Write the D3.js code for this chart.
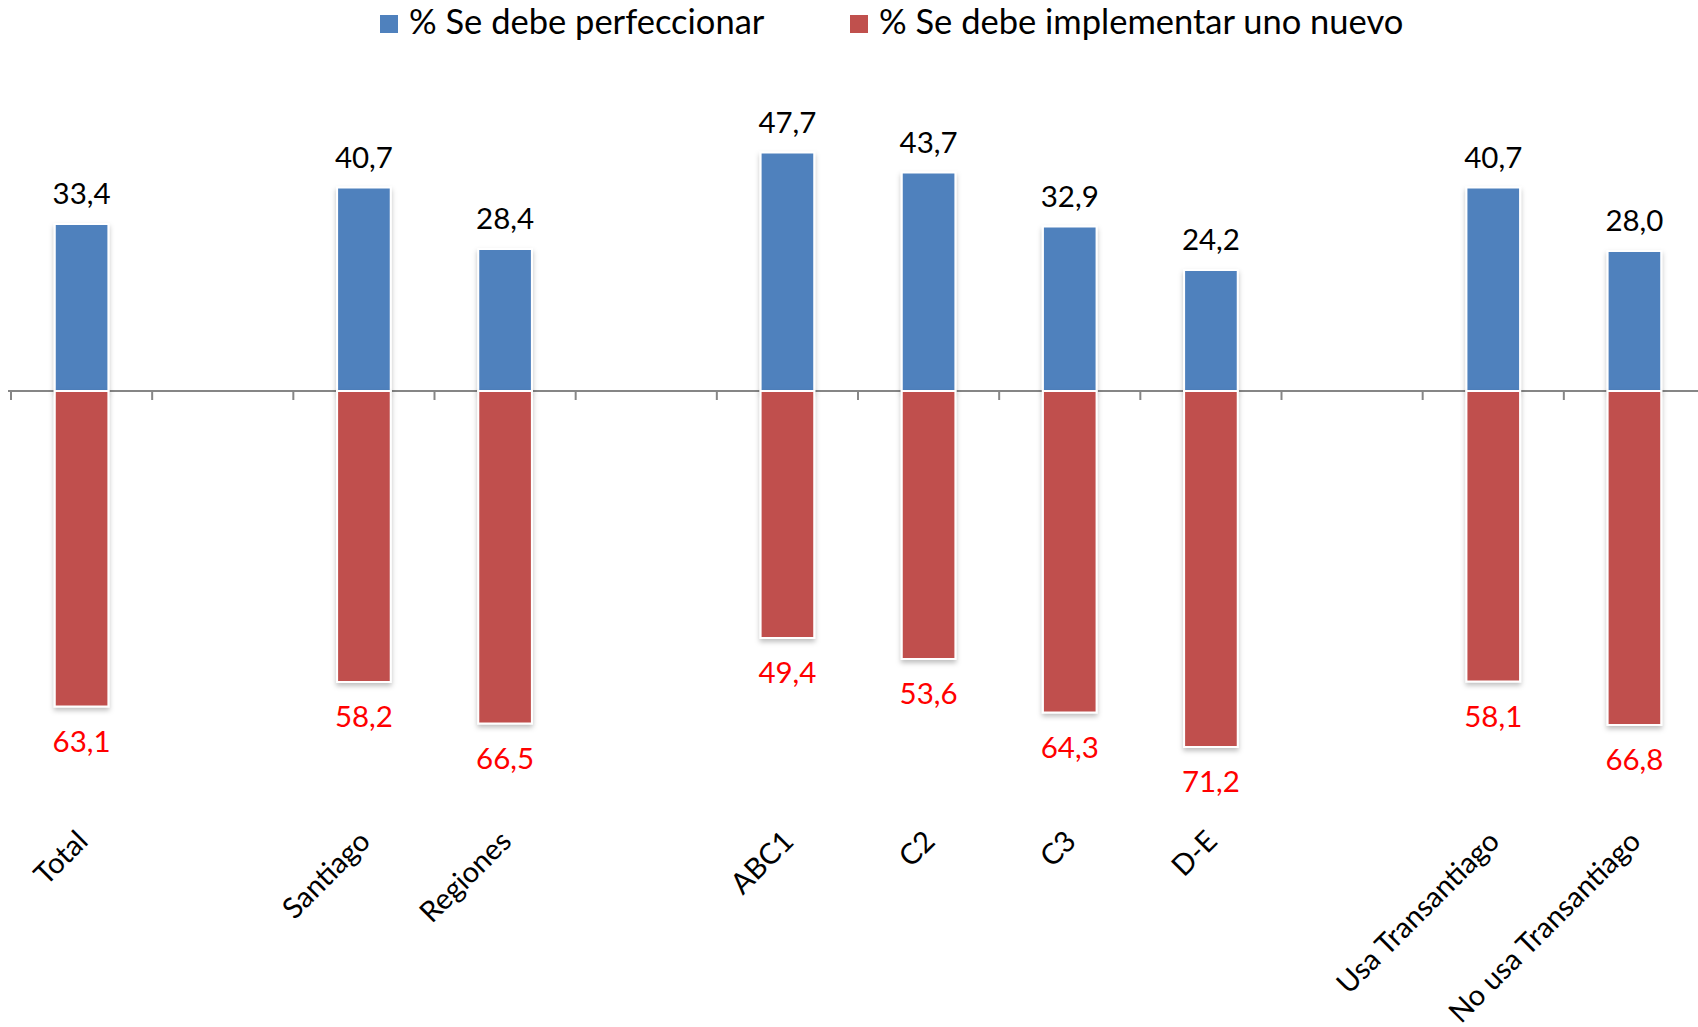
<!DOCTYPE html>
<html lang="es">

<head>
    <meta charset="UTF-8">
    <title>Transantiago</title>
    <style>
        * {
            margin: 0;
            padding: 0;
        }

        body {
            background: #fff;
            overflow: hidden;
        }
    </style>
</head>

<body>
    <div id="chart"></div>
    <script src="https://cdn.jsdelivr.net/npm/d3@7"></script>
    <script>
        const categories = ['Total', '', 'Santiago', 'Regiones', '', 'ABC1', 'C2', 'C3', 'D-E', '', 'Usa Transantiago', 'No usa Transantiago']
        const perfeccionar = [33.4, null, 40.7, 28.4, null, 47.7, 43.7, 32.9, 24.2, null, 40.7, 28.0]
        const nuevo = [63.1, null, 58.2, 66.5, null, 49.4, 53.6, 64.3, 71.2, null, 58.1, 66.8]
        const seriesNames = ['% Se debe perfeccionar', '% Se debe implementar uno nuevo']

        const width = 1698
        const height = 1027
        const fontFamily = 'Lato, "Open Sans", sans-serif'
        const blue = '#4F81BD'
        const red = '#C0504D'

        const svg = d3.select('#chart')
            .append('svg')
            .attr('width', width)
            .attr('height', height)
            .style('background', '#fff')

        const defs = svg.append('defs')
        const shadow = defs.append('filter')
            .attr('id', 'shadow')
            .attr('x', '-20%').attr('y', '-5%')
            .attr('width', '140%').attr('height', '115%')
        shadow.append('feDropShadow')
            .attr('dx', 0).attr('dy', 3)
            .attr('stdDeviation', 2.5)
            .attr('flood-color', '#000')
            .attr('flood-opacity', 0.25)

        const x = d3.scaleBand()
            .domain(d3.range(categories.length))
            .range([11, 1705])

        const y = d3.scaleLinear()
            .domain([-80, 60])
            .range([791, 91])

        const barWidth = x.bandwidth() * 0.38

        // eje horizontal con marcas
        const axis = svg.append('g')
        axis.append('line')
            .attr('x1', 8).attr('x2', width)
            .attr('y1', y(0)).attr('y2', y(0))
            .attr('stroke', '#868686')
            .attr('stroke-width', 2)
        axis.selectAll('line.tick')
            .data(d3.range(categories.length + 1))
            .join('line')
            .attr('class', 'tick')
            .attr('x1', i => x.range()[0] + i * x.step())
            .attr('x2', i => x.range()[0] + i * x.step())
            .attr('y1', y(0))
            .attr('y2', y(0) + 9)
            .attr('stroke', '#868686')
            .attr('stroke-width', 2)

        const idx = d3.range(categories.length).filter(i => perfeccionar[i] !== null)
        const bars = svg.append('g')

        // barras azules (positivas)
        bars.selectAll('rect.up')
            .data(idx)
            .join('rect')
            .attr('class', 'up')
            .attr('x', i => x(i) + (x.bandwidth() - barWidth) / 2)
            .attr('y', i => y(perfeccionar[i]))
            .attr('width', barWidth)
            .attr('height', i => y(0) - y(perfeccionar[i]))
            .attr('fill', blue)
            .attr('stroke', '#fff')
            .attr('stroke-width', 2)
            .attr('filter', 'url(#shadow)')

        // barras rojas (negativas)
        bars.selectAll('rect.down')
            .data(idx)
            .join('rect')
            .attr('class', 'down')
            .attr('x', i => x(i) + (x.bandwidth() - barWidth) / 2)
            .attr('y', y(0))
            .attr('width', barWidth)
            .attr('height', i => y(-nuevo[i]) - y(0))
            .attr('fill', red)
            .attr('stroke', '#fff')
            .attr('stroke-width', 2)
            .attr('filter', 'url(#shadow)')

        const fmt = v => v.toFixed(1).replace('.', ',')

        svg.append('g').selectAll('text')
            .data(idx)
            .join('text')
            .attr('x', i => x(i) + x.bandwidth() / 2)
            .attr('y', i => y(perfeccionar[i]) - 27)
            .attr('text-anchor', 'middle')
            .attr('dominant-baseline', 'middle')
            .text(i => fmt(perfeccionar[i]))
            .style('font-family', fontFamily)
            .style('font-size', '29.5px')
            .attr('fill', '#000')

        svg.append('g').selectAll('text')
            .data(idx)
            .join('text')
            .attr('x', i => x(i) + x.bandwidth() / 2)
            .attr('y', i => y(-nuevo[i]) + 38)
            .attr('text-anchor', 'middle')
            .attr('dominant-baseline', 'middle')
            .text(i => fmt(nuevo[i]))
            .style('font-family', fontFamily)
            .style('font-size', '29.5px')
            .attr('fill', '#FF0000')

        // etiquetas de categoria giradas
        svg.append('g').selectAll('text')
            .data(idx)
            .join('text')
            .attr('transform', i => `translate(${x(i) + x.bandwidth() / 2 + 8}, 843) rotate(-45)`)
            .attr('text-anchor', 'end')
            .text(i => categories[i])
            .style('font-family', fontFamily)
            .style('font-size', '29px')
            .attr('fill', '#000')

        // leyenda
        const legendItems = [
            { name: seriesNames[0], color: blue, x: 380 },
            { name: seriesNames[1], color: red, x: 850 }
        ]
        const legend = svg.append('g').selectAll('g')
            .data(legendItems)
            .join('g')
            .attr('transform', d => `translate(${d.x}, 24)`)
        legend.append('rect')
            .attr('x', 0).attr('y', -9)
            .attr('width', 18).attr('height', 18)
            .attr('fill', d => d.color)
        legend.append('text')
            .attr('x', 29)
            .attr('y', 1)
            .attr('dominant-baseline', 'middle')
            .text(d => d.name)
            .style('font-family', fontFamily)
            .style('font-size', '34.5px')
            .attr('fill', '#000')
    </script>
</body>

</html>
